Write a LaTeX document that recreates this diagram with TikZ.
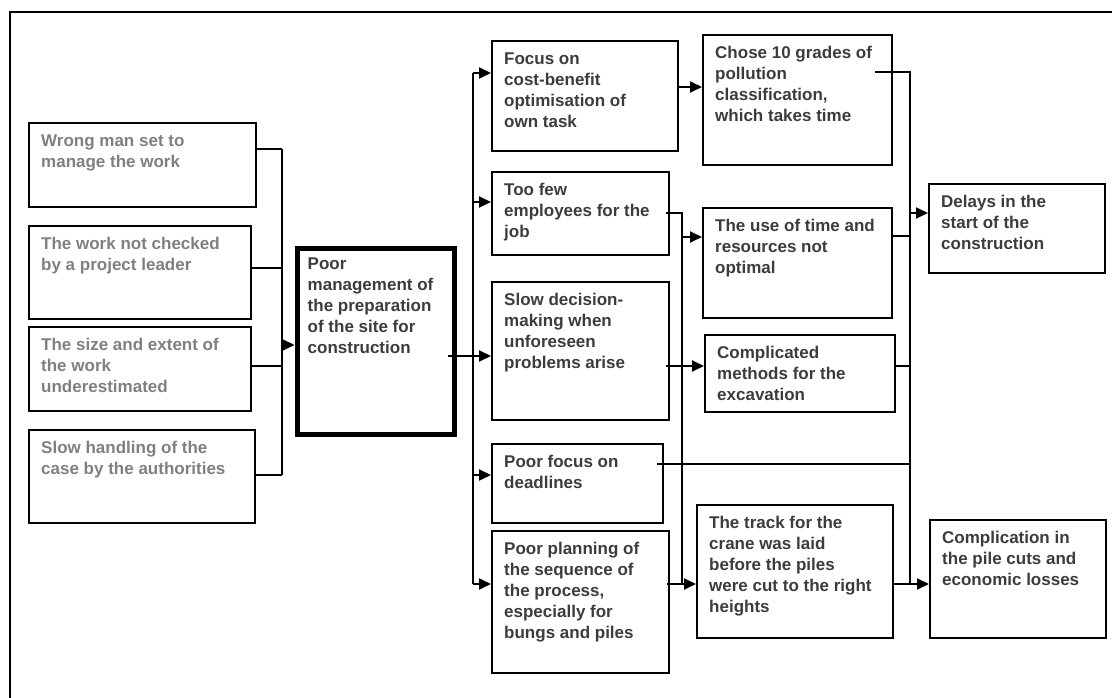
\documentclass[tikz,border=0pt]{standalone}
\usepackage{fontspec}
\setmainfont{Liberation Sans}
\usetikzlibrary{arrows.meta,calc}
\definecolor{lgray}{HTML}{808080}
\definecolor{dgray}{HTML}{3C3C3C}
\tikzset{
  box/.style={draw=black, line width=1.8pt, anchor=north west, inner sep=0pt, rectangle},
  mainbox/.style={box, line width=5pt},
  txt/.style={anchor=north west, inner sep=0pt, align=left, font=\fontsize{17}{21}\selectfont\bfseries},
  ltxt/.style={txt, text=lgray},
  rtxt/.style={txt, text=dgray},
  conn/.style={line width=1.8pt, black},
  arr/.style={conn, -{Triangle[length=12pt,width=11pt]}},
}
\newcommand\bx[8]{%
  \node[#6, minimum width={#4-#2}, minimum height={#5-#3}] (#1) at (#2,#3) {};
  \node[#7] (#1t) at ($(#1.north west)+(13,10)$) {\rule{0pt}{14pt}#8};
}
\begin{document}
\begin{tikzpicture}[x=1pt,y=-1pt]
\useasboundingbox (0,0) rectangle (1112,698);
% outer frame (clipped by the page)
\coordinate (fbl) at (10,698);
\coordinate (ftl) at (10,12);
\coordinate (ftr) at (1112,12);
\draw[line width=2pt] (fbl) -- (ftl) -- (ftr);

% left column
\bx{w1}{28}{122}{255}{206}{box}{ltxt}{Wrong man set to\\manage the work}
\bx{w2}{28}{225}{250}{318}{box}{ltxt}{The work not checked\\by a project leader}
\bx{w3}{28}{326}{250}{410}{box}{ltxt}{The size and extent of\\the work\\underestimated}
\bx{w4}{28}{429}{254}{522}{box}{ltxt}{Slow handling of the\\case by the authorities}

% main box
\bx{m}{294.5}{245.5}{451.5}{431.5}{mainbox}{rtxt}{Poor\\management of\\the preparation\\of the site for\\construction}

% second column
\bx{f1}{491}{40}{677}{150}{box}{rtxt}{Focus on\\cost-benefit\\optimisation of\\own task}
\bx{f2}{491}{171}{668}{254}{box}{rtxt}{Too few\\employees for the\\job}
\bx{f3}{491}{281}{668}{419}{box}{rtxt}{Slow decision-\\making when\\unforeseen\\problems arise}
\bx{f4}{491}{443}{662}{522}{box}{rtxt}{Poor focus on\\deadlines}
\bx{f5}{491}{530}{668}{672}{box}{rtxt}{Poor planning of\\the sequence of\\the process,\\especially for\\bungs and piles}

% third column
\bx{c1}{702}{34}{891}{164}{box}{rtxt}{Chose 10 grades of\\pollution\\classification,\\which takes time}
\bx{c2}{702}{207}{891}{317}{box}{rtxt}{The use of time and\\resources not\\optimal}
\bx{c3}{704}{334}{894}{411}{box}{rtxt}{Complicated\\methods for the\\excavation}
\bx{c4}{696}{504}{892}{637}{box}{rtxt}{The track for the\\crane was laid\\before the piles\\were cut to the right\\heights}

% results
\bx{d1}{928}{183}{1104}{272}{box}{rtxt}{Delays in the\\start of the\\construction}
\bx{d2}{929}{519}{1105}{637}{box}{rtxt}{Complication in\\the pile cuts and\\economic losses}

% bus coordinates
\coordinate (lb1) at (282,149);
\coordinate (lb2) at (282,268);
\coordinate (lb3) at (282,366);
\coordinate (lb4) at (282,475);
\coordinate (lbm) at (282,345);

\coordinate (mo) at (448,356);
\coordinate (rb0) at (473,73);
\coordinate (rb1) at (473,202);
\coordinate (rb2) at (473,356);
\coordinate (rb3) at (473,475);
\coordinate (rb4) at (473,584);

\coordinate (f2o) at (666,213);
\coordinate (vb0) at (682,213);
\coordinate (vb1) at (682,237);
\coordinate (vb2) at (682,584);
\coordinate (f3o) at (666,366);
\coordinate (f5o) at (667,584);

\coordinate (c1o) at (875,72);
\coordinate (cb0) at (910,72);
\coordinate (cb1) at (910,213);
\coordinate (cb2) at (910,236);
\coordinate (cb3) at (910,366);
\coordinate (cb4) at (910,464);
\coordinate (cb5) at (910,584);
\coordinate (f4o) at (657,464);

% left collector
\draw[conn] (w1.east |- lb1) -- (lb1);
\draw[conn] (w2.east |- lb2) -- (lb2);
\draw[conn] (w3.east |- lb3) -- (lb3);
\draw[conn] (w4.east |- lb4) -- (lb4);
\draw[conn] (lb1) -- (lb4);
\draw[arr] (lbm) -- (m.west |- lbm);

% main to second column
\draw[conn] (mo) -- (rb2);
\draw[conn] (rb0) -- (rb4);
\draw[arr] (rb0) -- (f1.west |- rb0);
\draw[arr] (rb1) -- (f2.west |- rb1);
\draw[arr] (rb2) -- (f3.west |- rb2);
\draw[arr] (rb3) -- (f4.west |- rb3);
\draw[arr] (rb4) -- (f5.west |- rb4);

% second to third column
\draw[arr] (f1.east |- 0,87) -- (c1.west |- 0,87);
\draw[conn] (f2o) -- (vb0) -- (vb2);
\draw[arr] (vb1) -- (c2.west |- vb1);
\draw[arr] (f3o) -- (c3.west |- f3o);
\draw[arr] (f5o) -- (c4.west |- f5o);

% third column to results
\draw[conn] (c1o) -- (cb0) -- (cb5);
\draw[conn] (c2.east |- cb2) -- (cb2);
\draw[conn] (c3.east |- cb3) -- (cb3);
\draw[conn] (f4o) -- (cb4);
\draw[arr] (cb1) -- (d1.west |- cb1);
\draw[arr] (c4.east |- cb5) -- (d2.west |- cb5);
\end{tikzpicture}
\end{document}
